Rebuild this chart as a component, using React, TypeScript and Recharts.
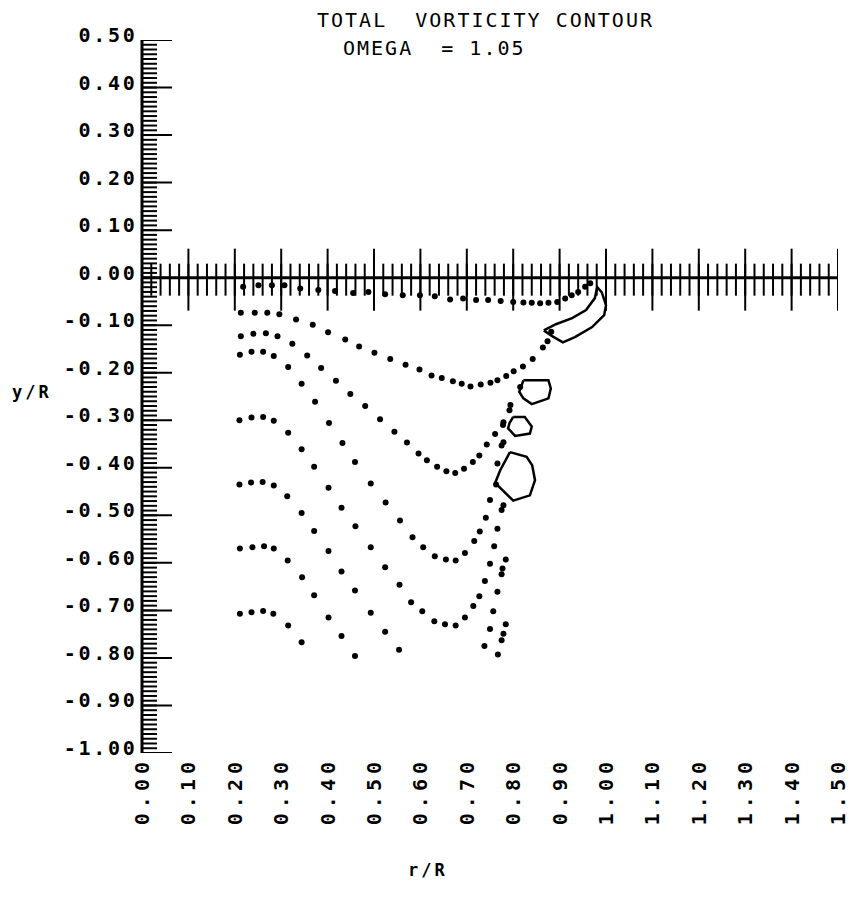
import React from "react";
import { ScatterChart, Scatter, XAxis, YAxis, ReferenceLine } from "recharts";

// axis labels
const xTickLabels = [0, 0.1, 0.2, 0.3, 0.4, 0.5, 0.6, 0.7, 0.8, 0.9, 1.0, 1.1, 1.2, 1.3, 1.4, 1.5];
const yTickLabels = [0.5, 0.4, 0.3, 0.2, 0.1, 0, -0.1, -0.2, -0.3, -0.4, -0.5, -0.6, -0.7, -0.8, -0.9, -1.0];

// dotted contour right under the r/R axis
const axisRow: [number, number][] = [
  [0.218, -0.019], [0.251, -0.016], [0.28, -0.016], [0.307, -0.016], [0.341, -0.023],
  [0.38, -0.026], [0.416, -0.028], [0.455, -0.032], [0.488, -0.03], [0.524, -0.035],
  [0.562, -0.037], [0.599, -0.037], [0.631, -0.039], [0.664, -0.046], [0.692, -0.044],
  [0.72, -0.047], [0.746, -0.047], [0.773, -0.049], [0.8, -0.051], [0.822, -0.052],
  [0.84, -0.053], [0.858, -0.054], [0.876, -0.053], [0.895, -0.051], [0.912, -0.044],
  [0.926, -0.037], [0.94, -0.03], [0.955, -0.019], [0.966, -0.012],
];

const contour1: [number, number][] = [
  [0.213, -0.074], [0.243, -0.074], [0.27, -0.074], [0.296, -0.077], [0.332, -0.088],
  [0.368, -0.099], [0.401, -0.115], [0.438, -0.13], [0.468, -0.145], [0.501, -0.158],
  [0.535, -0.171], [0.568, -0.183], [0.598, -0.193], [0.624, -0.206], [0.646, -0.211],
  [0.67, -0.218], [0.689, -0.223], [0.708, -0.229], [0.73, -0.225], [0.751, -0.221],
  [0.766, -0.216], [0.785, -0.207], [0.801, -0.197], [0.821, -0.187], [0.842, -0.171],
  [0.864, -0.147], [0.874, -0.134], [0.882, -0.114],
];

const contour2: [number, number][] = [
  [0.213, -0.123], [0.24, -0.118], [0.267, -0.117], [0.292, -0.123], [0.324, -0.139],
  [0.356, -0.164], [0.386, -0.19], [0.418, -0.217], [0.449, -0.245], [0.481, -0.27],
  [0.513, -0.298], [0.544, -0.324], [0.571, -0.347], [0.596, -0.37], [0.614, -0.384],
  [0.636, -0.398], [0.656, -0.407], [0.675, -0.411], [0.694, -0.402], [0.713, -0.388],
  [0.727, -0.374], [0.743, -0.351], [0.761, -0.329], [0.778, -0.31],
];

const contour3: [number, number][] = [
  [0.211, -0.162], [0.236, -0.156], [0.261, -0.156], [0.284, -0.165], [0.315, -0.188],
  [0.344, -0.223], [0.373, -0.261], [0.403, -0.306], [0.432, -0.348], [0.459, -0.388],
  [0.493, -0.433], [0.525, -0.473], [0.556, -0.511], [0.583, -0.546], [0.606, -0.567],
  [0.631, -0.586], [0.655, -0.593], [0.676, -0.595], [0.696, -0.579], [0.716, -0.554],
  [0.728, -0.534], [0.741, -0.505], [0.75, -0.468], [0.763, -0.435],
];

const contour4: [number, number][] = [
  [0.21, -0.3], [0.236, -0.294], [0.261, -0.293], [0.284, -0.301], [0.315, -0.326],
  [0.344, -0.361], [0.371, -0.398], [0.402, -0.442], [0.43, -0.484], [0.46, -0.523],
  [0.493, -0.567], [0.524, -0.609], [0.555, -0.646], [0.58, -0.683], [0.604, -0.702],
  [0.63, -0.723], [0.653, -0.729], [0.676, -0.732], [0.696, -0.715], [0.714, -0.691],
  [0.727, -0.67], [0.739, -0.638], [0.75, -0.602], [0.759, -0.565],
];

const contour5: [number, number][] = [
  [0.21, -0.435], [0.235, -0.431], [0.26, -0.43], [0.284, -0.437], [0.313, -0.46],
  [0.344, -0.495], [0.371, -0.533], [0.402, -0.575], [0.43, -0.618], [0.459, -0.658],
  [0.493, -0.705], [0.524, -0.745], [0.554, -0.783],
];

const contour6: [number, number][] = [
  [0.211, -0.57], [0.238, -0.567], [0.263, -0.565], [0.284, -0.57], [0.314, -0.595],
  [0.345, -0.63], [0.371, -0.668], [0.402, -0.715], [0.43, -0.754], [0.459, -0.796],
];

const contour7: [number, number][] = [
  [0.211, -0.707], [0.236, -0.704], [0.261, -0.701], [0.283, -0.707], [0.315, -0.732],
  [0.344, -0.767],
];

// dense dotted column near r/R = 0.78
const column: [number, number][] = [
  [0.767, -0.793], [0.738, -0.775], [0.775, -0.763], [0.779, -0.749], [0.784, -0.729],
  [0.75, -0.739], [0.757, -0.702], [0.766, -0.661], [0.775, -0.624], [0.777, -0.612],
  [0.784, -0.593], [0.766, -0.528], [0.775, -0.489], [0.779, -0.479], [0.766, -0.391],
  [0.775, -0.353], [0.779, -0.346], [0.779, -0.304], [0.792, -0.279], [0.794, -0.268],
  [0.815, -0.23],
];

// solid closed contours
const loop1: [number, number][] = [
  [0.866, -0.111], [0.892, -0.098], [0.927, -0.085], [0.957, -0.068], [0.976, -0.043],
  [0.981, -0.02], [0.991, -0.031], [1.0, -0.058], [0.996, -0.079], [0.97, -0.104],
  [0.933, -0.125], [0.907, -0.136], [0.884, -0.123], [0.866, -0.111],
];
const loop2: [number, number][] = [
  [0.822, -0.216], [0.876, -0.216], [0.881, -0.233], [0.876, -0.254], [0.84, -0.266],
  [0.822, -0.254], [0.813, -0.24], [0.822, -0.216],
];
const loop3: [number, number][] = [
  [0.8, -0.293], [0.825, -0.293], [0.84, -0.313], [0.836, -0.328], [0.804, -0.333],
  [0.789, -0.317], [0.792, -0.306], [0.8, -0.293],
];
const loop4: [number, number][] = [
  [0.793, -0.367], [0.829, -0.377], [0.841, -0.395], [0.847, -0.426], [0.836, -0.458],
  [0.8, -0.469], [0.761, -0.432], [0.772, -0.405], [0.793, -0.367],
];

const toPts = (pairs: [number, number][]) => pairs.map(([x, y]) => ({ x, y }));

// tick marks on the two axes (minor every 0.02 along r/R, every 0.01 along y/R)
const xMinorTicks = Array.from({ length: 76 }, (_, i) => ({ x: +(i * 0.02).toFixed(2), y: 0 }));
const yMinorTicks = Array.from({ length: 151 }, (_, i) => ({ x: 0, y: +(-1 + i * 0.01).toFixed(2) }));
const xMajorTicks = xTickLabels.map((x) => ({ x, y: 0 }));
const yMajorTicks = yTickLabels.map((y) => ({ x: 0, y }));

const FONT = '"DejaVu Sans Mono", monospace';

const fmt = (v: number) => (Math.abs(v) < 1e-9 ? "0.00" : v.toFixed(2));

const vTick = (up: number, down: number) => (p: any) => (
  <line x1={p.cx} x2={p.cx} y1={p.cy - up} y2={p.cy + down} stroke="#000" strokeWidth={2} />
);
const hTick = (left: number, right: number) => (p: any) => (
  <line x1={p.cx - left} x2={p.cx + right} y1={p.cy} y2={p.cy} stroke="#000" strokeWidth={2} />
);
const Dot = (p: any) => <circle cx={p.cx} cy={p.cy} r={3} fill="#000" />;
const NoDot = () => <g />;

const XTick = ({ x, y, payload }: any) => {
  const ty = y - 4;
  return (
    <text
      x={x}
      y={ty}
      transform={`rotate(-90 ${x} ${ty})`}
      textAnchor="end"
      dominantBaseline="central"
      fontFamily={FONT}
      fontWeight="bold"
      fontSize={20}
      letterSpacing={5}
      fill="#000"
    >
      {fmt(payload.value)}
    </text>
  );
};

const YTick = ({ x, y, payload }: any) => (
  <text
    x={x + 3.5}
    y={y + 2}
    textAnchor="end"
    fontFamily={FONT}
    fontWeight="bold"
    fontSize={20}
    letterSpacing={2.7}
    fill="#000"
  >
    {fmt(payload.value)}
  </text>
);

const contours = [axisRow, contour1, contour2, contour3, contour4, contour5, contour6, contour7, column];
const loops = [loop1, loop2, loop3, loop4];

export default function App() {
  return (
    <div style={{ position: "absolute", left: 0, top: 0, width: 856, height: 919, background: "#fff" }}>
      <ScatterChart width={856} height={919} margin={{ top: 40, right: 18, bottom: 66, left: 0 }}>
        <XAxis
          type="number"
          dataKey="x"
          domain={[0, 1.5]}
          ticks={xTickLabels}
          interval={0}
          height={100}
          axisLine={false}
          tickLine={false}
          tick={<XTick />}
          allowDataOverflow
        />
        <YAxis
          type="number"
          dataKey="y"
          domain={[-1, 0.5]}
          ticks={yTickLabels}
          interval={0}
          width={142}
          axisLine={false}
          tickLine={false}
          tick={<YTick />}
          allowDataOverflow
        />
        <ReferenceLine x={0} stroke="#000" strokeWidth={3} />
        <ReferenceLine y={0} stroke="#000" strokeWidth={3} />

        <Scatter data={xMinorTicks} shape={vTick(14, 18)} isAnimationActive={false} legendType="none" />
        <Scatter data={xMajorTicks} shape={vTick(29, 33)} isAnimationActive={false} legendType="none" />
        <Scatter data={yMinorTicks} shape={hTick(5, 15)} isAnimationActive={false} legendType="none" />
        <Scatter data={yMajorTicks} shape={hTick(5, 30)} isAnimationActive={false} legendType="none" />

        {contours.map((c, i) => (
          <Scatter key={`c${i}`} data={toPts(c)} shape={Dot} isAnimationActive={false} legendType="none" />
        ))}
        {loops.map((l, i) => (
          <Scatter
            key={`l${i}`}
            data={toPts(l)}
            line={{ stroke: "#000", strokeWidth: 2.5 }}
            shape={NoDot}
            isAnimationActive={false}
            legendType="none"
          />
        ))}
      </ScatterChart>

      <svg
        width={856}
        height={919}
        style={{ position: "absolute", left: 0, top: 0, pointerEvents: "none" }}
      >
        <text x={317} y={27} fontFamily={FONT} fontSize={20} letterSpacing={2} fill="#000" style={{ whiteSpace: "pre" }}>
          {"TOTAL  VORTICITY CONTOUR"}
        </text>
        <text x={343} y={55} fontFamily={FONT} fontSize={20} letterSpacing={2} fill="#000" style={{ whiteSpace: "pre" }}>
          {"OMEGA  = 1.05"}
        </text>
        <text x={12} y={398} fontFamily={FONT} fontWeight="bold" fontSize={17} letterSpacing={3} fill="#000">
          y/R
        </text>
        <text x={408} y={876} fontFamily={FONT} fontWeight="bold" fontSize={17} letterSpacing={3} fill="#000">
          r/R
        </text>
      </svg>
    </div>
  );
}
